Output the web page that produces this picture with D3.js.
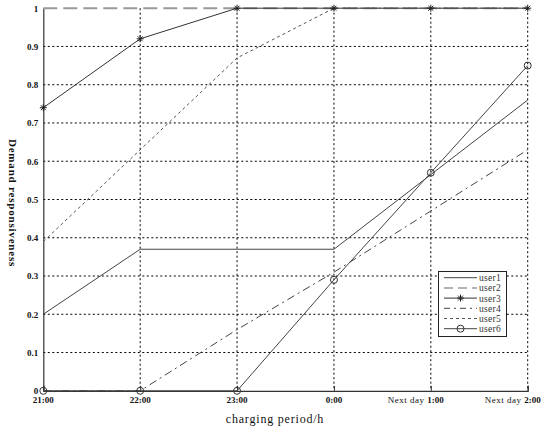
<!DOCTYPE html>
<html><head><meta charset="utf-8">
<script src="https://cdn.jsdelivr.net/npm/d3@7"></script>
<style>body{margin:0;background:#fff}svg{display:block}</style>
</head><body><svg id="c" width="550" height="432"></svg>
<script>
const categories = ["21:00","22:00","23:00","0:00","Next day 1:00","Next day 2:00"];
const yTicks = [0,0.1,0.2,0.3,0.4,0.5,0.6,0.7,0.8,0.9,1];
const user1 = [0.2,0.37,0.37,0.37,0.565,0.76];
const user2 = [1,1,1,1,1,1];
const user3 = [0.74,0.92,1,1,1,1];
const user4 = [0,0,0.16,0.31,0.47,0.63];
const user5 = [0.39,0.63,0.87,1,1,1];
const user6 = [0,0,0,0.29,0.57,0.85];
const seriesNames = ["user1","user2","user3","user4","user5","user6"];

const series = [
  {name:"user1", v:user1, color:"#444", w:1, dash:null, marker:null},
  {name:"user2", v:user2, color:"#999", w:2, dash:"14,6", marker:null},
  {name:"user3", v:user3, color:"#333", w:1, dash:null, marker:"star"},
  {name:"user4", v:user4, color:"#444", w:1, dash:"8,4,2,4", marker:null},
  {name:"user5", v:user5, color:"#555", w:1, dash:"3,3", marker:null},
  {name:"user6", v:user6, color:"#444", w:1, dash:null, marker:"circle"}
];

const svg = d3.select("#c");
const L=43.3, R=527.7, T=8.2, B=390.8;
const x = d3.scalePoint().domain(categories).range([L,R]);
const y = d3.scaleLinear().domain([0,1]).range([B,T]);

// grid
const g = svg.append("g");
g.selectAll(".hg").data(yTicks.filter(d=>d>0&&d<1)).join("line")
  .attr("x1",L).attr("x2",R).attr("y1",d=>y(d)).attr("y2",d=>y(d))
  .attr("stroke","#000").attr("stroke-width",1).attr("stroke-dasharray","2,2.5");
g.selectAll(".vg").data(categories.slice(1)).join("line")
  .attr("x1",d=>x(d)).attr("x2",d=>x(d)).attr("y1",T).attr("y2",B)
  .attr("stroke","#000").attr("stroke-width",1).attr("stroke-dasharray","2,2.5");

// axes
const yAxis = d3.axisLeft(y).tickValues(yTicks).tickSize(0).tickPadding(5)
  .tickFormat(d=> d===0?"0":d===1?"1":d3.format(".1f")(d));
const ya = svg.append("g").attr("transform",`translate(${L},0)`).call(yAxis);
ya.select(".domain").attr("stroke","#333").attr("stroke-width",1.2);
ya.selectAll("text").attr("font-family","Liberation Serif, serif").attr("font-weight","bold").attr("font-size",9).attr("fill","#111");

const xAxis = d3.axisBottom(x).tickSize(-5).tickPadding(0).tickFormat("");
const xa = svg.append("g").attr("transform",`translate(0,${B})`).call(xAxis);
xa.select(".domain").attr("stroke","#333").attr("stroke-width",1.2);
xa.selectAll("line").attr("stroke","#333");
// x labels
const xl = svg.append("g");
categories.forEach((c,i)=>{
  const t = xl.append("text").attr("y",403).attr("font-family","Liberation Serif, serif").attr("font-size",9).attr("fill","#111");
  if(c.startsWith("Next day")){
    t.attr("x",x(c)+13).attr("text-anchor","end");
    t.append("tspan").text("Next day ").attr("letter-spacing",0.5);
    t.append("tspan").text(c.replace("Next day ","")).attr("font-weight","bold");
  } else {
    t.attr("x",x(c)).attr("text-anchor","middle").attr("font-weight","bold").text(c);
  }
});

// lines
const line = d3.line().x((d,i)=>x(categories[i])).y(d=>y(d));
series.forEach(s=>{
  svg.append("path").datum(s.v).attr("d",line).attr("fill","none")
    .attr("stroke",s.color).attr("stroke-width",s.w).attr("stroke-dasharray",s.dash);
});
function drawMarker(sel,type,cx,cy){
  if(type==="circle"){
    sel.append("circle").attr("cx",cx).attr("cy",cy).attr("r",3.5).attr("fill","none").attr("stroke","#333").attr("stroke-width",1);
  } else if(type==="star"){
    const r=3.5;
    [[ -r,0,r,0],[0,-r,0,r],[-r*0.7,-r*0.7,r*0.7,r*0.7],[-r*0.7,r*0.7,r*0.7,-r*0.7]].forEach(p=>{
      sel.append("line").attr("x1",cx+p[0]).attr("y1",cy+p[1]).attr("x2",cx+p[2]).attr("y2",cy+p[3]).attr("stroke","#222").attr("stroke-width",1);
    });
  }
}
series.filter(s=>s.marker).forEach(s=>{
  s.v.forEach((d,i)=>drawMarker(svg,s.marker,x(categories[i]),y(d)));
});

// legend
const lg = svg.append("g");
lg.append("rect").attr("x",438.5).attr("y",271.5).attr("width",68).attr("height",65).attr("fill","#fff").attr("stroke","#222").attr("stroke-width",1);
series.forEach((s,i)=>{
  const yy = 277.7 + i*10.2;
  lg.append("line").attr("x1",444).attr("x2",477).attr("y1",yy).attr("y2",yy)
    .attr("stroke",s.color).attr("stroke-width",s.w===2?1.5:1).attr("stroke-dasharray", s.name==="user2"?"9,5":s.name==="user4"?"6,4,2,4":s.dash);
  if(s.marker) drawMarker(lg,s.marker,460.5,yy);
  lg.append("text").attr("x",479).attr("y",yy+3.5).attr("font-family","Liberation Serif, serif").attr("font-size",9.5).attr("fill","#333").attr("letter-spacing",0.3).text(seriesNames[i]);
});

// titles
svg.append("text").attr("x",275).attr("y",423).attr("text-anchor","middle")
  .attr("font-family","Liberation Serif, serif").attr("font-size",12).attr("letter-spacing",0.8).attr("fill","#111").text("charging period/h");
svg.append("text").attr("transform","translate(9,203) rotate(90)").attr("text-anchor","middle")
  .attr("font-family","Liberation Serif, serif").attr("font-size",11).attr("font-weight","bold").attr("letter-spacing",0.8).attr("fill","#111").text("Demand responsiveness");
</script></body></html>
